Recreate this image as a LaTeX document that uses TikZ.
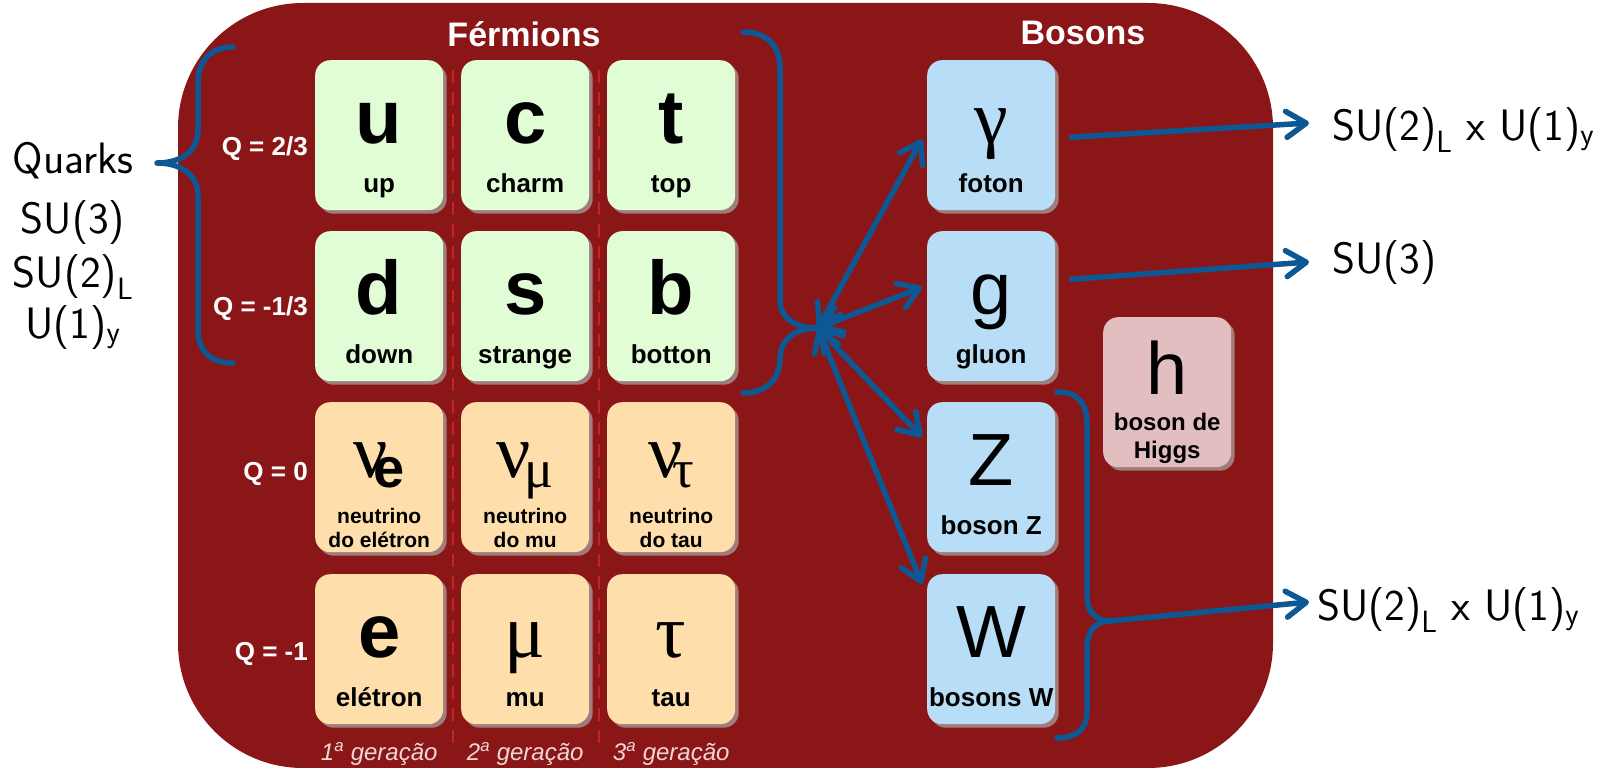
\documentclass[tikz,border=0pt]{standalone}
\usepackage{fontspec}
\newfontfamily\arialf{Liberation Sans}
\newfontfamily\timesf{Liberation Serif}
\usetikzlibrary{arrows.meta,calc,shadows}

\definecolor{bgred}{RGB}{139,22,24}
\definecolor{quarkc}{RGB}{224,253,214}
\definecolor{leptonc}{RGB}{254,222,170}
\definecolor{bosonc}{RGB}{183,222,246}
\definecolor{higgsc}{RGB}{226,190,193}
\definecolor{shadowc}{RGB}{160,125,125}
\definecolor{linkc}{RGB}{11,88,148}
\definecolor{sepc}{RGB}{200,35,35}
\definecolor{genc}{RGB}{238,215,215}

\newcommand\fs[1]{\fontsize{#1}{#1}\selectfont}

% card with a symbol and a one-line name
\newcommand\stdcard[7]{%
  \node[card,fill=#4] (#1) at (#2,#3) {};
  \node[#5] (#1-s) at ($(#1.north)+(0,83)$) {#6};
  \node[lbl] (#1-l) at ($(#1.north)+(0,132)$) {#7};}
% neutrino card with a two-line name
\newcommand\nucard[5]{%
  \node[card,fill=leptonc] (#1) at (#2,#3) {};
  \node[gsym] (#1-s) at ($(#1.north)+(0,75)$) {#4};
  \node[slbl] (#1-l) at ($(#1.north)+(0,121)$) {neutrino};
  \node[slbl] (#1-m) at ($(#1.north)+(0,145)$) {#5};}

\begin{document}
\begin{tikzpicture}[x=1pt,y=-1pt,
  card/.style={rectangle, rounded corners=15pt, minimum width=128pt, minimum height=150pt,
    inner sep=0pt, draw=none, anchor=north west,
    general shadow={fill=shadowc, shadow xshift=3.5pt, shadow yshift=-3.5pt}},
  sym/.style={anchor=base, inner sep=0pt, font=\arialf\bfseries\fs{76}},
  bsym/.style={anchor=base, inner sep=0pt, font=\arialf\fs{74}},
  gsym/.style={anchor=base, inner sep=0pt, font=\timesf\fs{76}},
  lbl/.style={anchor=base, inner sep=0pt, font=\arialf\bfseries\fs{26}},
  slbl/.style={anchor=base, inner sep=0pt, font=\arialf\bfseries\fs{21}},
  hlbl/.style={anchor=base, inner sep=0pt, font=\arialf\bfseries\fs{24}},
  qlbl/.style={anchor=base east, inner sep=0pt, text=white, font=\arialf\bfseries\fs{26}},
  head/.style={anchor=base, inner sep=0pt, text=white, font=\arialf\bfseries\fs{34}},
  gen/.style={anchor=base, inner sep=0pt, text=genc, font=\arialf\itshape\fs{24}},
  group/.style={anchor=base, inner sep=0pt, font=\sffamily\fs{44}},
  link/.style={draw=linkc, line width=5.5pt, line cap=round, line join=round},
  onearrow/.style={-{Straight Barb[length=20pt,width=26pt,round]}},
  twoarrow/.style={{Straight Barb[length=20pt,width=26pt,round]}-{Straight Barb[length=20pt,width=26pt,round]}},
  sep/.style={draw=sepc, line width=1.2pt, dash pattern=on 13pt off 9pt}]

\useasboundingbox (0,0) rectangle (1609,768);

% dark red panel
\fill[bgred, rounded corners=125pt] (178,3) rectangle (1273,768);

% generation separators
\draw[sep] (453,70) -- (453,745);
\draw[sep] (599,70) -- (599,745);

% headers
\node[head] (ferm) at (524,47) {Férmions};
\node[head] (bos) at (1083,45) {Bosons};

% quarks
\stdcard{u}{315}{60}{quarkc}{sym}{u}{up}
\stdcard{c}{461}{60}{quarkc}{sym}{c}{charm}
\stdcard{t}{607}{60}{quarkc}{sym}{t}{top}
\stdcard{d}{315}{231}{quarkc}{sym}{d}{down}
\stdcard{s}{461}{231}{quarkc}{sym}{s}{strange}
\stdcard{b}{607}{231}{quarkc}{sym}{b}{botton}

% leptons
\nucard{nue}{315}{402}{ν\kern-15pt\raisebox{-10pt}{\arialf\bfseries\fs{56}e}}{do elétron}
\nucard{numu}{461}{402}{ν\kern-6pt\raisebox{-10pt}{\fs{54}μ}}{do mu}
\nucard{nutau}{607}{402}{ν\kern-11pt\raisebox{-10pt}{\fs{54}τ}}{do tau}
\stdcard{e}{315}{574}{leptonc}{sym}{e}{elétron}
\stdcard{mu}{461}{574}{leptonc}{gsym}{μ}{mu}
\stdcard{tau}{607}{574}{leptonc}{gsym}{τ}{tau}

% charges
\node[qlbl] (q1) at (308,155) {Q = 2/3};
\node[qlbl] (q2) at (308,315) {Q = -1/3};
\node[qlbl] (q3) at (308,480) {Q = 0};
\node[qlbl] (q4) at (308,660) {Q = -1};

% generations
\node[gen] (gen1) at ($(e.south)+(0,36)$) {1\textsuperscript{a} geração};
\node[gen] (gen2) at ($(mu.south)+(0,36)$) {2\textsuperscript{a} geração};
\node[gen] (gen3) at ($(tau.south)+(0,36)$) {3\textsuperscript{a} geração};

% gauge bosons
\stdcard{foton}{927}{60}{bosonc}{gsym}{γ}{foton}
\stdcard{gluon}{927}{231}{bosonc}{bsym}{g}{gluon}
\stdcard{Z}{927}{402}{bosonc}{bsym}{Z}{boson Z}
\stdcard{W}{927}{574}{bosonc}{bsym}{W}{bosons W}

% Higgs
\node[card,fill=higgsc] (h) at (1103,317) {};
\node[bsym] (h-s) at ($(h.north)+(0,77)$) {h};
\node[hlbl] (h-l) at ($(h.north)+(0,113)$) {boson de};
\node[hlbl] (h-m) at ($(h.north)+(0,141)$) {Higgs};

% symmetry groups
\node[group] (quarks) at (73,173) {Quarks};
\node[group] (gq3) at (73,233) {SU(3)};
\node[group] (gq2) at (73,287) {SU(2)\textsubscript{L}};
\node[group] (gq1) at (73,338) {U(1)\textsubscript{y}};
\node[group, anchor=base west] (su2a) at (1332,140) {SU(2)\textsubscript{L} x U(1)\textsubscript{y}};
\node[group, anchor=base west] (su3) at (1332,273) {SU(3)};
\node[group, anchor=base west] (su2b) at (1317,620) {SU(2)\textsubscript{L} x U(1)\textsubscript{y}};

% braces
\coordinate (qtip) at (157,163);
\coordinate (hub) at (818,328);
\coordinate (wztip) at (1110,621);
\draw[link] (233,47) .. controls (212,47) and (198,60) .. (198,82) -- (198,130)
  .. controls (198,152) and (180,163) .. (qtip)
  .. controls (180,163) and (198,174) .. (198,196) -- (198,330)
  .. controls (198,352) and (212,363) .. (233,363);
\draw[link] (743,32) .. controls (766,32) and (780,45) .. (780,68) -- (780,300)
  .. controls (780,318) and (795,328) .. (hub)
  .. controls (795,328) and (780,340) .. (780,358)
  .. controls (780,380) and (766,393) .. (743,393);
\draw[link] (1057,392) .. controls (1077,392) and (1087,402) .. (1087,424) -- (1087,596)
  .. controls (1087,612) and (1096,621) .. (wztip)
  .. controls (1096,621) and (1087,630) .. (1087,648) -- (1087,712)
  .. controls (1087,730) and (1075,738) .. (1057,738);

% couplings
\draw[link,twoarrow] (hub) -- ($(foton.west)+(-5,4)$);
\draw[link,twoarrow] (hub) -- ($(gluon.west)+(-5,-19)$);
\draw[link,twoarrow] (hub) -- ($(Z.north west)+(-5,35)$);
\draw[link,twoarrow] (hub) -- ($(W.north west)+(-5,10)$);

\draw[link,onearrow] ($(foton.east)+(16,2)$) -- ($(su2a.base west)+(-23,-17)$);
\draw[link,onearrow] ($(gluon.east)+(16,-27)$) -- ($(su3.base west)+(-23,-11)$);
\draw[link,onearrow] (wztip) -- ($(su2b.base west)+(-8,-18)$);
\end{tikzpicture}
\end{document}
